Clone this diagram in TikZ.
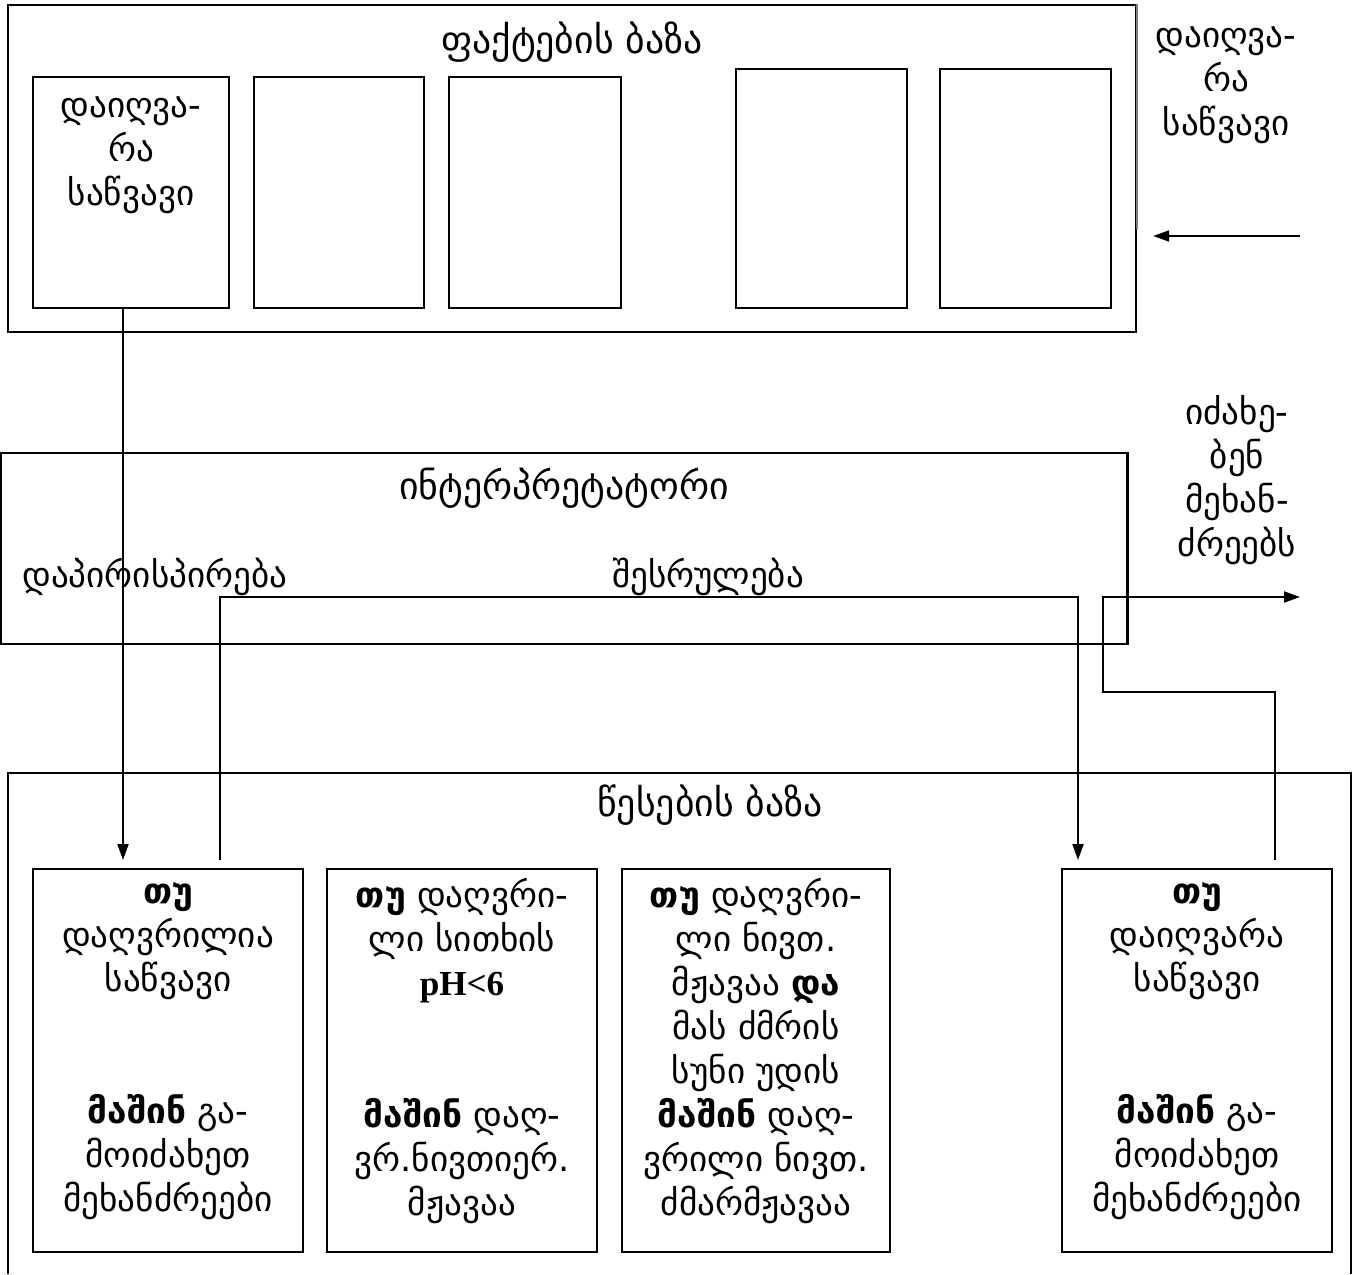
\documentclass[tikz,border=0pt]{standalone}
\usepackage{fontspec}
\setmainfont{DejaVu Sans}
\newfontfamily\latinserif{Liberation Serif}
\usetikzlibrary{arrows.meta,calc}
\begin{document}
\begin{tikzpicture}[x=0.02cm,y=-0.02cm,
  frame/.style={draw,line width=1.4pt,inner sep=0pt},
  cell/.style={draw,line width=1.1pt,inner sep=0pt},
  txt/.style={font=\fontsize{20}{25}\selectfont,align=center,inner sep=0pt},
  head/.style={font=\fontsize{21.5}{26}\selectfont,align=center,inner sep=0pt},
  wire/.style={line width=1.1pt},
  arr/.style={wire,-{Triangle[length=0.32cm,width=0.22cm]}}]
\useasboundingbox (0,0) rectangle (1361,1274);

% --- fact base ---
\node[frame,minimum width=22.56cm,minimum height=6.54cm] (fb) at (572,168.5) {};
\draw[gray,line width=1.1pt] (fb.north east) -- ++(0,225);
\node[head] (fbt) at (572,42) {ფაქტების ბაზა};
\node[cell,minimum width=3.92cm,minimum height=4.62cm] (f1) at (131,192.5) {};
\node[cell,minimum width=3.40cm,minimum height=4.62cm] (f2) at (339,192.5) {};
\node[cell,minimum width=3.44cm,minimum height=4.62cm] (f3) at (535,192.5) {};
\node[cell,minimum width=3.42cm,minimum height=4.78cm] (f4) at (821.5,188.5) {};
\node[cell,minimum width=3.42cm,minimum height=4.78cm] (f5) at (1025.5,188.5) {};
\node[txt] (f1t) at (131,155) {დაიღვა-\\რა\\საწვავი};

% incoming fact
\node[txt] (inl) at (1226,85) {დაიღვა-\\რა\\საწვავი};
\coordinate (inS) at (1300,236);
\draw[arr] (inS) -- ($(inS -| fb.east)+(16,0)$);

% --- interpreter ---
\node[frame,minimum width=22.54cm,minimum height=3.82cm] (ip) at (564,548.5) {};
\node[head] (ipt) at (564,488) {ინტერპრეტატორი};
\node[txt,anchor=west] (cmp) at (22,577) {დაპირისპირება};
\node[txt] (exe) at (708,577) {შესრულება};

% outgoing call
\node[txt] (outl) at (1237,480) {იძახე-\\ბენ\\მეხან-\\ძრეებს};

% --- rule base ---
\draw[line width=1.4pt] (8,1274) -- (8,773) -- (1351,773) -- (1351,1274);
\node[head] (rbt) at (710,805) {წესების ბაზა};
\node[cell,minimum width=5.40cm,minimum height=7.66cm] (r1) at (168,1060.5) {};
\node[cell,minimum width=5.40cm,minimum height=7.66cm] (r2) at (462,1060.5) {};
\node[cell,minimum width=5.36cm,minimum height=7.66cm] (r3) at (756,1060.5) {};
\node[cell,minimum width=5.40cm,minimum height=7.66cm] (r4) at (1197,1060.5) {};

\node[txt] (r1t) at (168,1051) {\textbf{თუ}\\დაღვრილია\\საწვავი\\\mbox{}\\\mbox{}\\\textbf{მაშინ} გა-\\მოიძახეთ\\მეხანძრეები};
\node[txt] (r2t) at (462,1051) {\textbf{თუ} დაღვრი-\\ლი სითხის\\{\latinserif\bfseries pH<6}\\\mbox{}\\\mbox{}\\\textbf{მაშინ} დაღ-\\ვრ.ნივთიერ.\\მჟავაა};
\node[txt] (r3t) at (756,1051) {\textbf{თუ} დაღვრი-\\ლი ნივთ.\\მჟავაა \textbf{და}\\მას ძმრის\\სუნი უდის\\\textbf{მაშინ} დაღ-\\ვრილი ნივთ.\\ძმარმჟავაა};
\node[txt] (r4t) at (1197,1051) {\textbf{თუ}\\დაიღვარა\\საწვავი\\\mbox{}\\\mbox{}\\\textbf{მაშინ} გა-\\მოიძახეთ\\მეხანძრეები};

% --- connectors ---
\coordinate (m1) at (123,860);
\draw[arr] (f1.south -| m1) -- (m1);
\coordinate (s1) at (220,860);
\coordinate (m4) at (1078,860);
\draw[arr] (s1) -- (220,597) -| (m4);
\coordinate (s4) at (1275,860);
\coordinate (outE) at (1300,597);
\draw[arr] (s4) |- (1103,692) |- (outE);
\end{tikzpicture}
\end{document}
